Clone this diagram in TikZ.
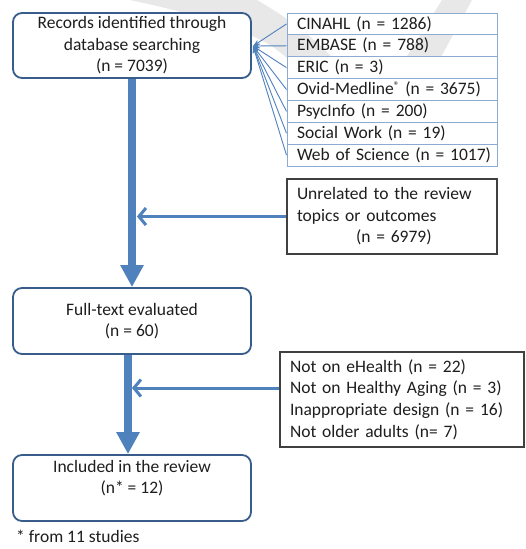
\documentclass[tikz,border=0pt]{standalone}
\usepackage{fontspec}
\setmainfont{Carlito}
\usetikzlibrary{arrows.meta}
\definecolor{mainblue}{RGB}{79,129,189}
\definecolor{boxblue}{RGB}{56,93,138}
\definecolor{dbblue}{RGB}{140,170,210}
\definecolor{wmark}{RGB}{232,232,232}
\definecolor{txt}{RGB}{30,30,30}
\tikzset{
  rbox/.style={draw=boxblue, line width=1.8pt, rounded corners=9pt, fill=white,
    minimum width=238pt, inner sep=0pt, align=center, text=txt},
  dbrow/.style={draw=dbblue, line width=1pt, minimum height=21.86pt,
    text width=190pt, inner xsep=10pt, inner ysep=0pt, align=left, text=txt},
  exbox/.style={draw=black!75, line width=1.3pt, fill=white, inner xsep=10pt,
    inner ysep=0pt, align=left, text=txt},
  shaft/.style={draw=mainblue, line width=8pt, -{Triangle[width=22pt,length=22pt]}},
  barb/.style={draw=mainblue, line width=3pt, -{Straight Barb[length=7pt,width=17pt]}},
  dbline/.style={draw=mainblue, line width=0.9pt, -{Stealth[length=7pt,width=5pt]}},
  plain/.style={text=txt, inner sep=0pt}
}
\begin{document}
\begin{tikzpicture}[x=1pt,y=-1pt,font=\fontsize{17.5pt}{21.6pt}\selectfont]
\useasboundingbox[fill=white] (0,0) rectangle (525,549);
% watermark
\fill[wmark] (130,0) -- (257,0) .. controls (300,25) and (345,60) .. (372,112)
  -- (442,0) -- (472,0) -- (385,160) -- (362,160)
  .. controls (340,110) and (300,65) .. (270,45)
  .. controls (240,28) and (200,15) .. (130,0) -- cycle;
% main boxes
\node[rbox, minimum height=65pt] (top) at (132,45.5)
  {Records identified through\\database searching\\(n = 7039)};
\node[rbox, minimum height=66pt] (full) at (132,321)
  {Full-text evaluated\\(n = 60)};
\node[rbox, minimum height=66pt] (inc) at (132,488) {};
\node[plain, align=center] (inct) at (132,478) {Included in the review\\(n* = 12)};
% database rows
\node[dbrow, fill=white] (d1) at (392,23.93) {\mbox{CINAHL (n = 1286)}};
\node[dbrow] (d2) at (392,45.79) {\mbox{EMBASE (n = 788)}};
\node[dbrow, fill=white] (d3) at (392,67.65) {\mbox{ERIC (n = 3)}};
\node[dbrow, fill=white] (d4) at (392,89.51) {\mbox{Ovid-Medline\raisebox{5pt}{\fontsize{11pt}{11pt}\selectfont ®} (n = 3675)}};
\node[dbrow, fill=white] (d5) at (392,111.37) {\mbox{PsycInfo (n = 200)}};
\node[dbrow, fill=white] (d6) at (392,133.23) {\mbox{Social Work (n = 19)}};
\node[dbrow, fill=white] (d7) at (392,155.09) {\mbox{Web of Science (n = 1017)}};
\coordinate (hub) at (253,46);
\foreach \i in {1,...,7} { \draw[dbline] (d\i.west) -- (hub); }
% exclusion boxes
\node[exbox, text width=190pt, minimum height=75pt] (unrel) at (392,216.5)
  {Unrelated to the review\\topics or outcomes\\\hspace*{59pt}(n = 6979)};
\node[exbox, text width=224pt, minimum height=95pt] (excl) at (402,399.5)
  {Not on eHealth (n = 22)\\Not on Healthy Aging (n = 3)\\Inappropriate design (n = 16)\\Not older adults (n= 7)};
% flow arrows
\draw[shaft] (top.south) -- (full.north);
\draw[shaft] ([xshift=-4pt]full.south) -- ([xshift=-4pt]inc.north);
\coordinate (j1) at (137,216.5);
\coordinate (j2) at (132,388);
\draw[barb] (unrel.west) -- (j1);
\draw[barb] (excl.west |- j2) -- (j2);
% footnote
\node[plain, anchor=west] (foot) at (16,536) {* from 11 studies};
\end{tikzpicture}
\end{document}
